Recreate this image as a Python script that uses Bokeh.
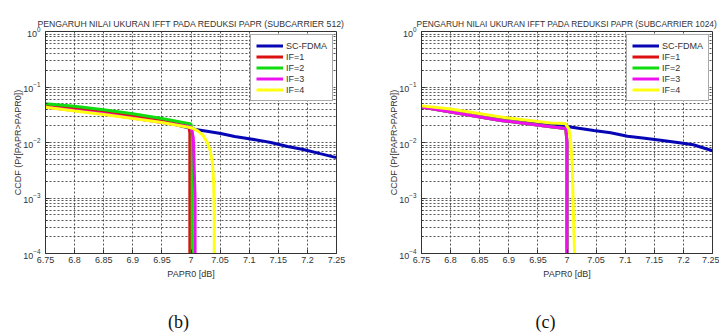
from bokeh.plotting import figure
from bokeh.models import (FixedTicker, NumeralTickFormatter, LogTickFormatter, Range1d)
from bokeh.layouts import row, column
from bokeh.core.properties import value
from bokeh.embed import file_html
from bokeh.resources import INLINE

# ---------------- data ----------------
series_names = ["SC-FDMA", "IF=1", "IF=2", "IF=3", "IF=4"]
series_colors = ["#0606b4", "#dd1010", "#10dd10", "#ee10ee", "#ffff10"]

x_ticks = [6.75, 6.8, 6.85, 6.9, 6.95, 7.0, 7.05, 7.1, 7.15, 7.2, 7.25]
y_ticks = [1e-4, 1e-3, 1e-2, 1e-1, 1.0]

# (b) subcarrier 512
b_sc_x = [6.75, 6.85, 6.95, 6.99, 7.008, 7.03, 7.051, 7.075, 7.097, 7.12, 7.137, 7.166, 7.193, 7.222, 7.248, 7.25]
b_sc_y = [0.046, 0.035, 0.024, 0.019, 0.0171, 0.0158, 0.0145, 0.0128, 0.0118, 0.0108, 0.0100, 0.0085, 0.0075, 0.0063, 0.0054, 0.0054]
b_if1_x = [6.75, 6.8, 6.85, 6.9, 6.95, 6.996, 6.998, 6.998]
b_if1_y = [0.048, 0.042, 0.036, 0.030, 0.025, 0.0205, 0.015, 1e-5]
b_if2_x = [6.75, 6.8, 6.85, 6.9, 6.95, 7.0, 7.002, 7.002]
b_if2_y = [0.050, 0.045, 0.039, 0.033, 0.027, 0.0215, 0.016, 1e-5]
b_if3_x = [6.75, 6.85, 6.95, 7.0, 7.004, 7.007, 7.007]
b_if3_y = [0.043, 0.033, 0.023, 0.019, 0.012, 0.001, 1e-5]
b_if4_x = [6.75, 6.8, 6.85, 6.9, 6.95, 7.0, 7.011, 7.021, 7.028, 7.033, 7.037, 7.039, 7.04, 7.04]
b_if4_y = [0.043, 0.037, 0.032, 0.027, 0.023, 0.0185, 0.0164, 0.0134, 0.0100, 0.0072, 0.0042, 0.0018, 0.0005, 1e-5]

# (c) subcarrier 1024
c_sc_x = [6.75, 6.85, 6.95, 7.0, 7.02, 7.046, 7.075, 7.104, 7.13, 7.161, 7.19, 7.217, 7.25]
c_sc_y = [0.044, 0.032, 0.022, 0.0194, 0.0180, 0.0165, 0.0150, 0.0130, 0.0121, 0.0110, 0.0100, 0.0091, 0.0071]
c_if1_x = [6.75, 6.8, 6.886, 6.972, 6.998, 7.0, 7.0]
c_if1_y = [0.0435, 0.0355, 0.025, 0.0192, 0.0178, 0.01, 1e-5]
c_if2_x = [6.75, 6.8, 6.886, 6.972, 6.998, 7.0, 7.0]
c_if2_y = [0.0435, 0.0355, 0.025, 0.0192, 0.0178, 0.01, 1e-5]
c_if3_x = [6.75, 6.8, 6.886, 6.972, 6.998, 7.0, 7.0]
c_if3_y = [0.0435, 0.0355, 0.025, 0.0192, 0.0178, 0.01, 1e-5]
c_if4_x = [6.75, 6.8, 6.886, 6.972, 6.997, 7.003, 7.006, 7.009, 7.011, 7.013, 7.013]
c_if4_y = [0.0457, 0.040, 0.0287, 0.0225, 0.0219, 0.0178, 0.0112, 0.0039, 0.00052, 0.0001, 1e-5]

titles = ["PENGARUH NILAI UKURAN IFFT PADA REDUKSI PAPR (SUBCARRIER 512)",
          "PENGARUH NILAI UKURAN IFFT PADA REDUKSI PAPR (SUBCARRIER 1024)"]
captions = ["(b)", "(c)"]
x_label = "PAPR0 [dB]"
y_label = "CCDF (Pr[PAPR>PAPR0])"

TXT = "#333333"
FONT = "Liberation Sans"
PLOT_H = 300
CAP_H = 36


def minor_log_ticks():
    out = []
    for major in y_ticks[:-1]:
        for k in range(2, 10):
            out.append(major * k)
    return out


def panel(title, title_size, xs, ys, width, bl, br, bt, bb):
    p = figure(width=width, height=PLOT_H, y_axis_type="log",
               x_range=Range1d(6.75, 7.25), y_range=Range1d(1e-4, 1.0),
               output_backend="svg", toolbar_location=None,
               min_border_left=bl, min_border_right=br,
               min_border_top=bt, min_border_bottom=bb,
               background_fill_color="white", border_fill_color="white")
    p.title.text = title
    p.title.align = "center"
    p.title.text_font = FONT
    p.title.text_font_size = title_size
    p.title.text_font_style = "normal"
    p.title.text_color = TXT
    p.title.standoff = 5

    p.outline_line_color = "#333333"
    p.outline_line_width = 1

    p.xaxis.ticker = FixedTicker(ticks=x_ticks, minor_ticks=[])
    p.xaxis.formatter = NumeralTickFormatter(format="0.[00]")
    p.yaxis.ticker = FixedTicker(ticks=y_ticks, minor_ticks=minor_log_ticks())
    p.yaxis.formatter = LogTickFormatter()

    for ax in (p.xaxis, p.yaxis):
        ax.major_label_text_font = FONT
        ax.major_label_text_font_size = "9px"
        ax.major_label_text_color = TXT
        ax.axis_label_text_font = FONT
        ax.axis_label_text_font_size = "9px"
        ax.axis_label_text_font_style = "normal"
        ax.axis_label_text_color = TXT
        ax.axis_line_color = "#333333"
        ax.major_tick_in = 4
        ax.major_tick_out = 0
        ax.minor_tick_in = 2
        ax.minor_tick_out = 0
        ax.major_tick_line_color = "#333333"
        ax.minor_tick_line_color = "#333333"
    p.xaxis.axis_label = x_label
    p.yaxis.axis_label = y_label
    p.xaxis.major_label_standoff = 3
    p.xaxis.axis_label_standoff = 3
    p.yaxis.major_label_standoff = 5
    p.yaxis.axis_label_standoff = -3

    for g in (p.xgrid, p.ygrid):
        g.grid_line_color = "#444444"
        g.grid_line_dash = "2 2"
        g.grid_line_width = 1
        g.grid_line_alpha = 0.9
    p.ygrid.minor_grid_line_color = "#444444"
    p.ygrid.minor_grid_line_dash = "2 2"
    p.ygrid.minor_grid_line_alpha = 0.9

    for name, color, x, y in zip(series_names, series_colors, xs, ys):
        p.line(x, y, line_color=color, line_width=3, legend_label=name)

    lg = p.legend[0]
    lg.location = "top_right"
    lg.margin = 3
    lg.padding = 5
    lg.spacing = 0
    lg.label_height = 11
    lg.glyph_height = 11
    lg.glyph_width = 27
    lg.label_standoff = 3
    lg.label_text_font = FONT
    lg.label_text_font_size = "9px"
    lg.label_text_color = TXT
    lg.border_line_color = "#555555"
    lg.border_line_width = 1
    lg.background_fill_color = "white"
    lg.background_fill_alpha = 1.0
    return p


def caption_fig(text, width, cx, cy):
    c = figure(width=width, height=CAP_H, x_range=Range1d(0, width), y_range=Range1d(0, CAP_H),
               x_axis_type=None, y_axis_type=None, output_backend="svg",
               toolbar_location=None, min_border=0,
               background_fill_color="white", border_fill_color="white")
    c.outline_line_color = None
    c.grid.visible = False
    c.text(x=[cx], y=[cy], text=[text], text_font=value("Liberation Serif"),
           text_font_size="18px", text_color="#111111",
           text_align="center", text_baseline="middle")
    return c


p1 = panel(titles[0], "8.7px",
           [b_sc_x, b_if1_x, b_if2_x, b_if3_x, b_if4_x],
           [b_sc_y, b_if1_y, b_if2_y, b_if3_y, b_if4_y],
           360, 45, 24, 31, PLOT_H - 253)
p2 = panel(titles[1], "8.4px",
           [c_sc_x, c_if1_x, c_if2_x, c_if3_x, c_if4_x],
           [c_sc_y, c_if1_y, c_if2_y, c_if3_y, c_if4_y],
           359, 61, 7, 25, PLOT_H - 254)
c1 = caption_fig(captions[0], 360, 178, CAP_H - 21)
c2 = caption_fig(captions[1], 359, 545 - 360, CAP_H - 21)

layout = column(row(p1, p2, spacing=0), row(c1, c2, spacing=0), spacing=0)
open("out.html", "w").write(file_html(layout, INLINE))
